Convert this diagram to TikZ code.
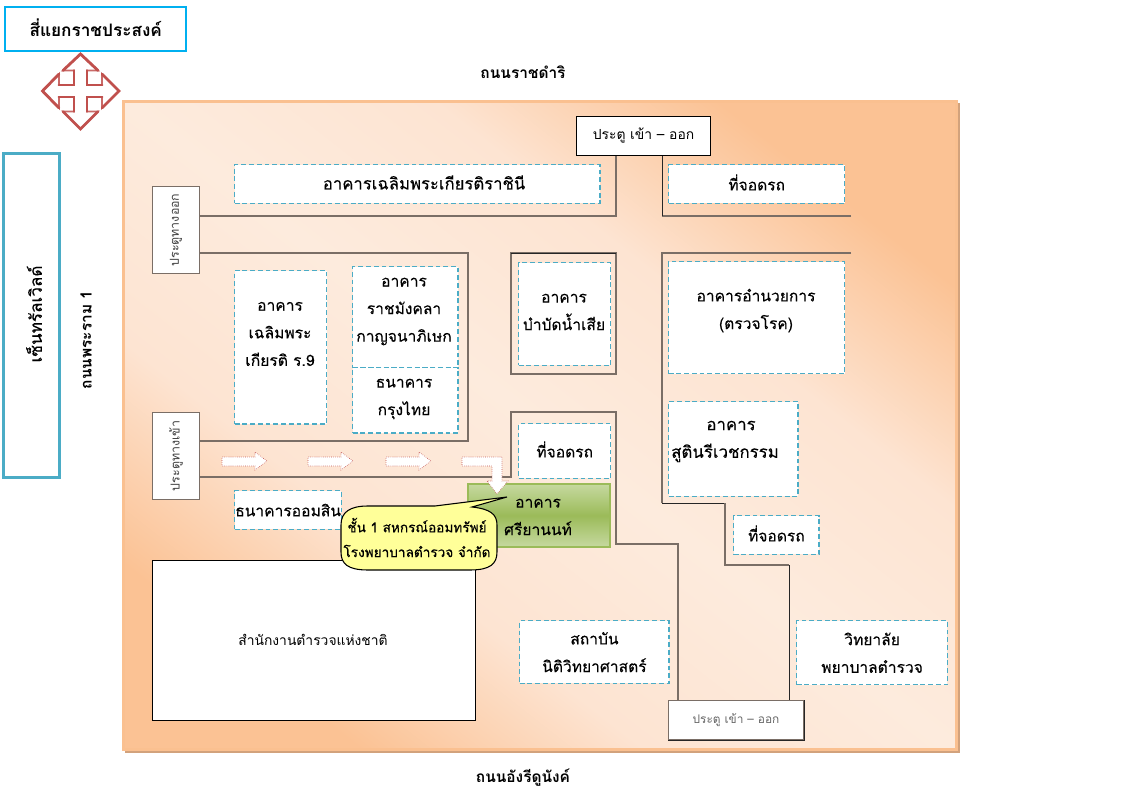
\documentclass[tikz,border=0pt]{standalone}
\usepackage{fontspec}
\newfontfamily\thaifont[Script=Thai]{Loma}
\newfontfamily\thaisemi[Script=Thai,FakeBold=0.22]{Loma}
\definecolor{dashblue}{HTML}{4BACC6}
\definecolor{roadgray}{HTML}{7A6E66}
\definecolor{crossred}{HTML}{C0504D}
\definecolor{areaedge}{HTML}{FAC090}
\definecolor{areashadow}{HTML}{D2A27C}
\definecolor{areaorange}{HTML}{FBC294}
\definecolor{areamid}{HTML}{FDE4D2}
\definecolor{arealight}{HTML}{FDEBDD}
\definecolor{greenmid}{HTML}{9BBB59}
\definecolor{greenlight}{HTML}{C6D9A0}
\pgfdeclareverticalshading{areashade}{100bp}{color(0bp)=(areaorange); color(25bp)=(areaorange); color(37bp)=(areamid); color(50bp)=(arealight); color(63bp)=(areamid); color(75bp)=(areaorange); color(100bp)=(areaorange)}
\tikzset{
 x=0.75pt,y=-0.75pt,
 every node/.style={font=\thaisemi\fontsize{11.7pt}{20.7pt}\selectfont,align=center,inner sep=0pt},
 place/.style={draw=dashblue,fill=white,line width=1.1pt,dash pattern=on 3.6pt off 2.2pt},
 gate/.style={draw=black,fill=white,line width=0.8pt,font=\thaifont\fontsize{10.4pt}{12pt}\selectfont},
 graygate/.style={draw=roadgray,fill=white,line width=1pt},
 road/.style={draw=roadgray,line width=1.2pt},
 thinroad/.style={draw=black!85,line width=0.6pt},
 blockarrow/.style={draw=crossred,fill=white,line width=0.45pt,densely dotted},
 streetname/.style={font=\thaifont\bfseries\fontsize{11.6pt}{13pt}\selectfont},
 gatetext/.style={rotate=90,font=\thaifont\fontsize{9.3pt}{11pt}\selectfont,text=black!75},
 crossedge/.style={draw=crossred,line width=2.1pt,line cap=round},
}
\newcommand{\up}[1]{\raisebox{1.2pt}[\height][\depth]{#1}}
\begin{document}
\begin{tikzpicture}
\useasboundingbox (0,0) rectangle (1129,792);
\fill[white] (0,0) rectangle (1129,792);
% area
\fill[areashadow] (125,103) rectangle (960,753);
\shade[shading=areashade,shading angle=142] (123,101) rectangle (957,750);
\draw[areaedge,line width=2.6pt] (123.5,101.5) rectangle (956.5,749.5);
% top-left
\node[draw={rgb,255:red,0;green,176;blue,240},fill=white,line width=1.6pt,minimum width=136pt,minimum height=33pt,anchor=north west,font=\thaifont\bfseries\fontsize{12.9pt}{14pt}\selectfont] (crossing) at (4,6) {\up{สี่แยกราชประสงค์}};
% crossing symbol
\path[draw=crossred!85,fill=white,line width=1.3pt] (80.5,54)--(63,70.5)--(74,70.5)--(74,85)--(59,85)--(59,74)--(42.5,91)--(59,108)--(59,97)--(74,97)--(74,111.5)--(63,111.5)--(80.5,129)--(98,111.5)--(87,111.5)--(87,97)--(102,97)--(102,108)--(119,91)--(102,74)--(102,85)--(87,85)--(87,70.5)--(98,70.5)--cycle;
\draw[crossedge] (63,70.5)--(80.5,54)--(98,70.5);
\draw[crossedge] (59,74)--(42.5,91)--(59,108);
\draw[crossedge] (63,111.5)--(80.5,129)--(98,111.5);
\draw[crossedge] (102,74)--(119,91)--(102,108);
\draw[crossedge] (74,70.5)--(74,85)--(59,85);
\draw[crossedge] (87,70.5)--(87,85)--(102,85);
\draw[crossedge] (74,111.5)--(74,97)--(59,97);
\draw[crossedge] (87,111.5)--(87,97)--(102,97);
\node[draw=dashblue,fill=white,line width=2.3pt,minimum width=42pt,minimum height=243pt,anchor=north west] (central) at (2,152) {};
\node[rotate=90,font=\thaisemi\fontsize{12.8pt}{15pt}\selectfont] (centraltext) at (34,314) {เซ็นทรัลเวิลด์};
\node[streetname,rotate=90] (rama) at (86,340) {ถนนพระราม 1};
\node[streetname] (ratchadamri) at (523,72) {ถนนราชดำริ};
\node[streetname] (henri) at (523,778) {ถนนอังรีดูนังค์};
% roads
\draw[road] (199,216)--(616,216)--(616,155);
\draw[road] (851,216)--(662,216);
\draw[thinroad] (662,155)--(662,216);
\draw[road] (199,253)--(468,253)--(468,441)--(199,441);
\draw[road] (851,253)--(662,253)--(662,503);
\draw[thinroad] (662,503)--(725,503);
\draw[road] (725,503)--(725,565)--(789,565);
\draw[thinroad] (789,565)--(789,700);
\draw[road] (199,477)--(511,477)--(511,412)--(616,412)--(616,544)--(678,544)--(678,700);
\draw[road] (511,253) rectangle (616,374);
\draw[thinroad] (511,253)--(616,253);
% gates
\node[gate,minimum width=100.5pt,minimum height=29pt,anchor=north west] (gatetop) at (576,116) {ประตู เข้า – ออก};
\node[graygate,minimum width=101pt,minimum height=29pt,anchor=north west,text=black!60,font=\thaifont\fontsize{8.9pt}{11pt}\selectfont] (gatebottom) at (668,700) {ประตู เข้า – ออก};
\draw[thinroad] (gatebottom.north east)--(gatebottom.south east)--(gatebottom.south west);
\node[graygate,minimum width=35pt,minimum height=65pt,anchor=north west] (gateout) at (152,186) {};
\node[gatetext] (gateouttext) at (176,230) {ประตูทางออก};
\node[graygate,minimum width=35pt,minimum height=65pt,anchor=north west] (gatein) at (152,412) {};
\node[gatetext] (gateintext) at (176,456) {ประตูทางเข้า};
% places
\node[place,minimum width=274pt,minimum height=29pt,anchor=north west,font=\thaisemi\fontsize{12.5pt}{14pt}\selectfont] (queen) at (234,164) {\hspace*{10pt}\up{อาคารเฉลิมพระเกียรติราชินี}};
\node[place,minimum width=132pt,minimum height=29pt,anchor=north west] (park1) at (668,164) {\up{ที่จอดรถ}};
\node[place,minimum width=69pt,minimum height=115pt,anchor=north west] (king) at (234,270) {};
\node (kingtext) at (280,334) {อาคาร\\เฉลิมพระ\\เกียรติ ร.9};
\node[place,minimum width=79pt,minimum height=76pt,anchor=north west] (mangkhala) at (352,266) {};
\node (mangkhalatext) at (404,311.5) {อาคาร\\ราชมังคลา\\กาญจนาภิเษก};
\node[place,minimum width=79pt,minimum height=49pt,anchor=north west] (ktb) at (352,367) {};
\node (ktbtext) at (404,399) {ธนาคาร\\กรุงไทย};
\node[place,minimum width=69pt,minimum height=77pt,anchor=north west] (water) at (518,262) {};
\node (watertext) at (564,312) {อาคาร\\บำบัดน้ำเสีย};
\node[place,minimum width=132pt,minimum height=84pt,anchor=north west] (admin) at (668,261) {};
\node (admintext) at (756,310.5) {อาคารอำนวยการ\\(ตรวจโรค)};
\node[place,minimum width=97pt,minimum height=71pt,anchor=north west] (obgyn) at (668,401) {};
\node[font=\thaisemi\fontsize{12.6pt}{20.7pt}\selectfont] (obgyntext) at (725,441.5) {\hspace*{9pt}อาคาร\\สูตินรีเวชกรรม};
\node[place,minimum width=64pt,minimum height=29pt,anchor=north west] (park2) at (733,515) {\up{ที่จอดรถ}};
\node[place,minimum width=69pt,minimum height=41pt,anchor=north west] (park3) at (518,423) {\up{ที่จอดรถ}};
\node[place,minimum width=80pt,minimum height=29pt,anchor=north west] (gsb) at (234,490) {ธนาคารออมสิน};
\node[place,minimum width=112pt,minimum height=47pt,anchor=north west] (forensic) at (519,620) {สถาบัน\\นิติวิทยาศาสตร์};
\node[place,minimum width=113pt,minimum height=48pt,anchor=north west] (college) at (796,620) {วิทยาลัย\\พยาบาลตำรวจ};
\node[draw=black,fill=white,line width=0.9pt,minimum width=242pt,minimum height=120pt,anchor=north west] (police) at (152,560) {};
\node[font=\thaifont\fontsize{10.4pt}{12pt}\selectfont] (policetext) at (313,640) {สำนักงานตำรวจแห่งชาติ};
% green building
\shade[top color=greenlight,bottom color=greenlight,middle color=greenmid] (468,484) rectangle (610,547);
\draw[draw=greenmid,line width=1pt] (468,484) rectangle (610,547);
\node (srtext) at (538,517) {อาคาร\\ศรียานนท์};
% arrows
\path[blockarrow] (222,457)--(255,457)--(255,452)--(267,461)--(255,470)--(255,466)--(222,466)--cycle;
\path[blockarrow] (308,457)--(341,457)--(341,452)--(353,461)--(341,470)--(341,466)--(308,466)--cycle;
\path[blockarrow] (386,457)--(419,457)--(419,452)--(431,461)--(419,470)--(419,466)--(386,466)--cycle;
\path[blockarrow] (462,457)--(502,457)--(502,481)--(508,481)--(497,494)--(487,481)--(492,481)--(492,466)--(462,466)--cycle;
% callout
\path[draw=black,fill={rgb,255:red,255;green,255;blue,153},line width=0.8pt] (435,506)--(507,497)--(472,507) .. controls (490,509) and (497,514) .. (497,525) -- (497,552) .. controls (497,564) and (490,570) .. (470,570) -- (368,570) .. controls (348,570) and (341,564) .. (341,552) -- (341,525) .. controls (341,512) and (350,506) .. (368,506) -- cycle;
\node[font=\thaisemi\fontsize{10.2pt}{18.6pt}\selectfont] (calltext) at (417,537.5) {ชั้น 1 สหกรณ์ออมทรัพย์\\โรงพยาบาลตำรวจ จำกัด};
\end{tikzpicture}
\end{document}
